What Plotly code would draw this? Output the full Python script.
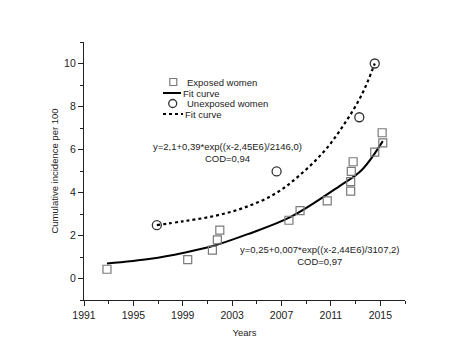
import plotly.graph_objects as go

# ---- data ----
exposed_years = [1992.86, 1999.4, 2001.4, 2001.8, 2002.0, 2007.6, 2008.5, 2010.7,
                 2012.6, 2012.6, 2012.65, 2012.8, 2014.55, 2015.2, 2015.15]
exposed_vals = [0.43, 0.88, 1.32, 1.80, 2.25, 2.71, 3.16, 3.61,
                4.06, 4.51, 4.98, 5.43, 5.88, 6.31, 6.78]

unexposed_years = [1996.9, 2006.6, 2013.3, 2014.55]
unexposed_vals = [2.48, 4.98, 7.50, 10.0]

fit_exp_years = [1992.86, 1996.4, 1999.1, 2001.5, 2004.2, 2007.7, 2011.7, 2013.5, 2015.2]
fit_exp_vals = [0.70, 0.92, 1.20, 1.52, 2.05, 2.85, 4.30, 5.05, 6.39]

fit_unexp_years = [1996.9, 1999.0, 2001.5, 2004.0, 2006.5, 2008.5, 2010.5, 2012.1, 2013.5, 2014.55]
fit_unexp_vals = [2.48, 2.66, 2.90, 3.30, 3.95, 4.82, 5.95, 7.20, 8.55, 10.0]

x_tick_vals = [1991, 1995, 1999, 2003, 2007, 2011, 2015]
y_tick_vals = [0, 2, 4, 6, 8, 10]

FONT = "Liberation Sans, Arial, sans-serif"
W, H = 471, 360
OFF = 8  # page body margin
# plot area in screen pixels (as seen in the reference)
SL, ST, SR, SB = 84, 42, 405, 300
L, T = SL - OFF, ST - OFF
R, B = W - (SR - OFF), H - (SB - OFF)
PW, PH = SR - SL, SB - ST


def px(x):
    return (x - SL) / PW


def py(y):
    return (SB - y) / PH


fig = go.Figure()

fig.add_trace(go.Scatter(
    x=fit_exp_years, y=fit_exp_vals, mode="lines", line_shape="spline",
    line=dict(color="black", width=2), showlegend=False))
fig.add_trace(go.Scatter(
    x=fit_unexp_years, y=fit_unexp_vals, mode="lines", line_shape="spline",
    line=dict(color="black", width=2.2, dash="dot"), showlegend=False))
fig.add_trace(go.Scatter(
    x=exposed_years, y=exposed_vals, mode="markers",
    marker=dict(symbol="square-open", size=8, color="#7a7a7a", line=dict(width=1.2)),
    showlegend=False))
fig.add_trace(go.Scatter(
    x=unexposed_years, y=unexposed_vals, mode="markers",
    marker=dict(symbol="circle-open", size=9, color="#333333", line=dict(width=1.3)),
    showlegend=False))

shapes = []
annotations = []
txt_font = dict(family=FONT, size=9.5, color="#222222")

# manual legend
shapes.append(dict(type="rect", xref="paper", yref="paper",
                   x0=px(169.8), x1=px(176.8), y0=py(85.5), y1=py(78.5),
                   line=dict(color="#7a7a7a", width=1.2)))
shapes.append(dict(type="line", xref="paper", yref="paper",
                   x0=px(163), x1=px(181), y0=py(93), y1=py(93),
                   line=dict(color="black", width=2)))
shapes.append(dict(type="circle", xref="paper", yref="paper",
                   x0=px(168.7), x1=px(176.7), y0=py(107.5), y1=py(99.5),
                   line=dict(color="#333333", width=1.3)))
shapes.append(dict(type="line", xref="paper", yref="paper",
                   x0=px(163), x1=px(183), y0=py(114), y1=py(114),
                   line=dict(color="black", width=2.2, dash="dot")))

for text, x, y in [("Exposed women", 184.5, 82), ("Fit curve", 180.5, 93),
                   ("Unexposed women", 184.5, 103.5), ("Fit curve", 182.5, 114)]:
    annotations.append(dict(text=text, xref="paper", yref="paper", x=px(x), y=py(y),
                            xanchor="left", yanchor="middle", showarrow=False,
                            font=txt_font))

annotations.append(dict(text="y=2,1+0,39*exp((x-2,45E6)/2146,0)<br>COD=0,94",
                        xref="paper", yref="paper", x=px(227), y=py(152),
                        xanchor="center", yanchor="middle", align="center",
                        showarrow=False, font=txt_font))
annotations.append(dict(text="y=0,25+0,007*exp((x-2,44E6)/3107,2)<br>COD=0,97",
                        xref="paper", yref="paper", x=px(320), y=py(255.5),
                        xanchor="center", yanchor="middle", align="center",
                        showarrow=False, font=txt_font))

fig.update_layout(
    width=W, height=H,
    margin=dict(l=L, r=R, t=T, b=B),
    paper_bgcolor="white", plot_bgcolor="white",
    font=dict(family=FONT, size=10, color="#222222"),
    shapes=shapes, annotations=annotations,
    showlegend=False,
    xaxis=dict(range=[1991, 2017], tickmode="array", tickvals=x_tick_vals,
               ticks="outside", ticklen=5, tickwidth=1, tickcolor="#222",
               showline=True, linecolor="#222", linewidth=1.3,
               showgrid=False, zeroline=False, automargin=False,
               tickfont=dict(family=FONT, size=10.5, color="#222"),
               minor=dict(tick0=1991, dtick=2, ticks="outside", ticklen=3,
                          tickcolor="#222", showgrid=False),
               title=dict(text="Years", font=dict(family=FONT, size=9.5, color="#222"),
                          standoff=9)),
    yaxis=dict(range=[-1, 11], tickmode="array", tickvals=y_tick_vals,
               ticks="outside", ticklen=5, tickwidth=1, tickcolor="#222",
               showline=True, linecolor="#222", linewidth=1.3,
               showgrid=False, zeroline=False, automargin=False,
               tickfont=dict(family=FONT, size=10.5, color="#222"),
               minor=dict(tick0=-1, dtick=1, ticks="outside", ticklen=3,
                          tickcolor="#222", showgrid=False),
               title=dict(text="Cumulative incidence per 100",
                          font=dict(family=FONT, size=9.5, color="#222"),
                          standoff=3)),
)

fig.write_html("out.html")
